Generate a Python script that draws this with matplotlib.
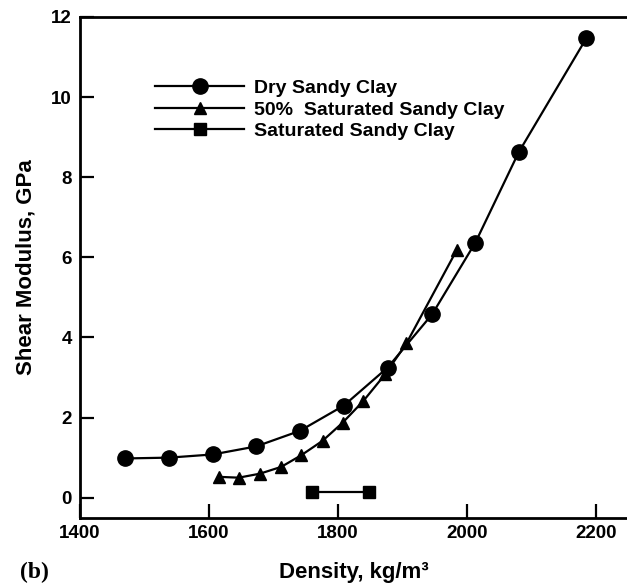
import matplotlib.pyplot as plt

plt.rcParams['font.family'] = ['Liberation Sans', 'DejaVu Sans']
plt.rcParams['font.weight'] = 'bold'

# dry sandy clay
dry_density = [1470, 1538, 1606, 1673, 1741, 1809, 1877, 1946, 2013, 2080, 2185]
dry_modulus = [0.98, 1.0, 1.08, 1.28, 1.67, 2.30, 3.25, 4.58, 6.37, 8.62, 11.47]

# 50% saturated
half_density = [1616, 1646, 1679, 1712, 1743, 1776, 1807, 1839, 1873, 1906, 1984]
half_modulus = [0.52, 0.50, 0.60, 0.77, 1.06, 1.42, 1.87, 2.41, 3.08, 3.85, 6.18]

# saturated
sat_density = [1760, 1848]
sat_modulus = [0.13, 0.13]

xticks = [1400, 1600, 1800, 2000, 2200]
yticks = [0, 2, 4, 6, 8, 10, 12]

fig = plt.figure(figsize=(6.27, 5.86), dpi=100)
ax = fig.add_axes([0.1276, 0.1165, 0.8724, 0.8545])

ax.plot(dry_density, dry_modulus, '-o', color='black', lw=1.6, ms=11, label='Dry Sandy Clay')
ax.plot(half_density, half_modulus, '-^', color='black', lw=1.6, ms=9, label='50%  Saturated Sandy Clay')
ax.plot(sat_density, sat_modulus, '-s', color='black', lw=1.6, ms=8, label='Saturated Sandy Clay')

ax.set_xlim(1400, 2248)
ax.set_ylim(-0.5, 12)
ax.set_xticks(xticks)
ax.set_yticks(yticks)
ax.tick_params(direction='in', length=10, width=1.6, labelsize=13.5)
ax.tick_params(axis='x', pad=5)
ax.tick_params(axis='y', pad=6)
for lab in ax.get_xticklabels() + ax.get_yticklabels():
    lab.set_fontweight('bold')
ax.spines['right'].set_visible(False)
for s in ['left', 'bottom', 'top']:
    ax.spines[s].set_linewidth(2)

ax.set_xlabel('Density, kg/m³', fontsize=16, fontweight='bold')
ax.xaxis.label.set_va('baseline')
ax.xaxis.set_label_coords(0.5, -0.1204)
ax.set_ylabel('Shear Modulus, GPa', fontsize=16, fontweight='bold')
ax.yaxis.label.set_va('center')
ax.yaxis.set_label_coords(-0.0987, 0.5)

ax.legend(loc='upper left', bbox_to_anchor=(0.137, 0.875), frameon=False, fontsize=14,
          handlelength=4.6, labelspacing=0.2, handletextpad=0.5, borderaxespad=0,
          borderpad=0)

fig.text(0.032, 0.0137, '(b)', family='Liberation Serif', fontsize=17, fontweight='bold')

fig.savefig('out.png', dpi=100)
